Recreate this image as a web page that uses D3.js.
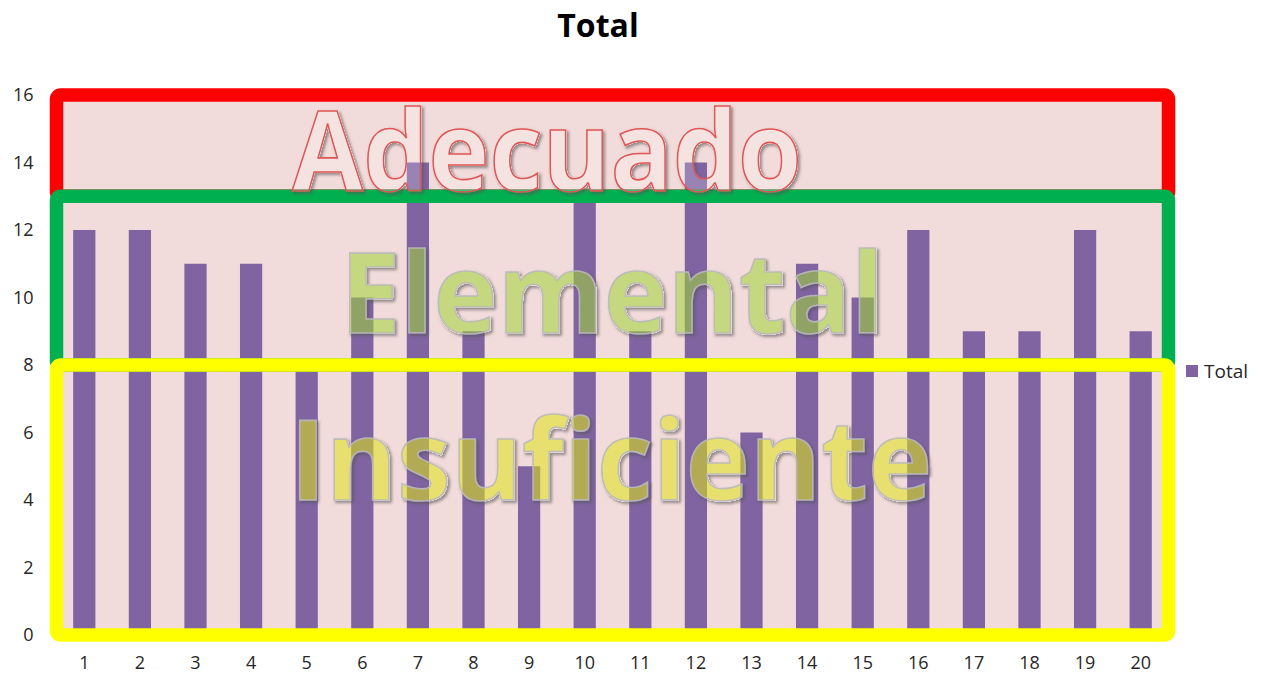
<!DOCTYPE html>
<html>
<head>
<meta charset="utf-8">
<script src="https://cdn.jsdelivr.net/npm/d3@7"></script>
<style>
  body { margin: 0; background: #fff; }
  text { font-family: "Open Sans", "Noto Sans", sans-serif; }
</style>
</head>
<body>
<div id="chart"></div>
<script>
// data
var categories = ["1","2","3","4","5","6","7","8","9","10","11","12","13","14","15","16","17","18","19","20"];
var totals = [12, 12, 11, 11, 8, 10, 14, 9, 5, 13, 9, 14, 6, 11, 10, 12, 9, 9, 12, 9];
var yTicks = [0, 2, 4, 6, 8, 10, 12, 14, 16];
var zoneNames = ["Adecuado", "Elemental", "Insuficiente"];
var zoneTop = [16, 13, 8];
var zoneBottom = [13, 8, 0];
var zoneLabelAt = [13.15, 8.95, 4];

var W = 1262, H = 676;
var margin = {top: 95, right: 93.5, bottom: 41, left: 56.5}
  , width = W - margin.left - margin.right
  , height = H - margin.top - margin.bottom;

var x = d3.scaleBand()
  .domain(categories)
  .range([0, width])
  .paddingInner(0.6)
  .paddingOuter(0.3);

var y = d3.scaleLinear()
  .domain([0, 16])
  .range([height, 0]);

var svg = d3.select('#chart')
  .append('svg')
  .attr('width', W)
  .attr('height', H);

// outer shadow only (does not show through the see-through letters)
var f = svg.append('defs').append('filter')
  .attr('id', 'shadow')
  .attr('x', '-10%').attr('y', '-20%')
  .attr('width', '120%').attr('height', '140%');
f.append('feComponentTransfer')
    .attr('in', 'SourceAlpha')
    .attr('result', 'mask')
  .append('feFuncA')
    .attr('type', 'linear')
    .attr('slope', 20);
f.append('feGaussianBlur')
  .attr('in', 'mask').attr('stdDeviation', 1.4).attr('result', 'blur');
f.append('feOffset')
  .attr('in', 'blur').attr('dx', 2).attr('dy', 2).attr('result', 'off');
f.append('feComposite')
  .attr('in', 'off').attr('in2', 'mask').attr('operator', 'out').attr('result', 'outer');
f.append('feFlood')
  .attr('flood-color', '#555').attr('flood-opacity', 0.6).attr('result', 'col');
f.append('feComposite')
  .attr('in', 'col').attr('in2', 'outer').attr('operator', 'in').attr('result', 'sh');
var merge = f.append('feMerge');
merge.append('feMergeNode').attr('in', 'sh');
merge.append('feMergeNode').attr('in', 'SourceGraphic');

var main = svg.append('g')
  .attr('transform', 'translate(' + margin.left + ',' + margin.top + ')');

// pink plot background
main.append('rect')
  .attr('x', 0).attr('y', 0)
  .attr('width', width).attr('height', height)
  .style('fill', '#F2DCDB');

// y axis
var yAxis = d3.axisLeft(y).tickValues(yTicks).tickSize(5).tickPadding(18);
main.append('g')
  .attr('class', 'axis')
  .call(yAxis)
  .call(function(g) {
    g.select('.domain').remove();
    g.selectAll('line').attr('stroke', '#bfbfbf');
    g.selectAll('text').style('font-size', '18px').style('fill', '#262626');
  });

// x axis
var xAxis = d3.axisBottom(x).tickSize(0).tickPadding(21);
main.append('g')
  .attr('transform', 'translate(0,' + height + ')')
  .call(xAxis)
  .call(function(g) {
    g.select('.domain').remove();
    g.selectAll('text').style('font-size', '18px').style('fill', '#262626');
  });

// bars
main.selectAll('.bar')
  .data(totals)
  .enter().append('rect')
    .attr('class', 'bar')
    .attr('x', function(d, i) { return x(categories[i]); })
    .attr('y', function(d) { return y(d); })
    .attr('width', x.bandwidth())
    .attr('height', function(d) { return height - y(d); })
    .style('fill', '#8064A2');

// zone frames
var frameColors = ['#FF0000', '#00B050', '#FFFF00'];
main.selectAll('.zone')
  .data(zoneNames)
  .enter().append('rect')
    .attr('class', 'zone')
    .attr('x', 0)
    .attr('y', function(d, i) { return y(zoneTop[i]); })
    .attr('width', width)
    .attr('height', function(d, i) { return y(zoneBottom[i]) - y(zoneTop[i]); })
    .attr('rx', 4)
    .style('fill', 'none')
    .style('stroke', function(d, i) { return frameColors[i]; })
    .style('stroke-width', 13.5);

// big word art labels
var labelX = [490.5, 555.5, 554.5];
var labelLen = [510, 544, 642];
var labelFill = ['rgba(255,255,255,0.2)', 'rgba(160,213,55,0.55)', 'rgba(222,228,20,0.55)'];
var labelStroke = ['#E05555', 'rgba(185,185,185,0.9)', 'rgba(185,185,185,0.9)'];

main.selectAll('.zone-label')
  .data(zoneNames)
  .enter().append('text')
    .attr('class', 'zone-label')
    .attr('x', function(d, i) { return labelX[i]; })
    .attr('y', function(d, i) { return y(zoneLabelAt[i]); })
    .attr('text-anchor', 'middle')
    .attr('textLength', function(d, i) { return labelLen[i]; })
    .attr('lengthAdjust', 'spacingAndGlyphs')
    .attr('filter', 'url(#shadow)')
    .style('font-size', '111px')
    .style('font-weight', 'bold')
    .style('fill', function(d, i) { return labelFill[i]; })
    .style('stroke', function(d, i) { return labelStroke[i]; })
    .style('stroke-width', 1.6)
    .text(function(d) { return d; });

// title
svg.append('text')
  .attr('x', 598)
  .attr('y', 37)
  .attr('text-anchor', 'middle')
  .style('font-size', '32px')
  .style('font-weight', 'bold')
  .style('fill', '#000')
  .text('Total');

// legend
var legend = svg.append('g')
  .attr('class', 'legend')
  .attr('transform', 'translate(1186,365)');

legend.append('rect')
  .attr('x', 0).attr('y', 0)
  .attr('width', 12).attr('height', 12)
  .style('fill', '#8064A2');

legend.append('text')
  .attr('x', 18)
  .attr('y', 13)
  .style('font-size', '19px')
  .style('fill', '#262626')
  .text('Total');
</script>
</body>
</html>
